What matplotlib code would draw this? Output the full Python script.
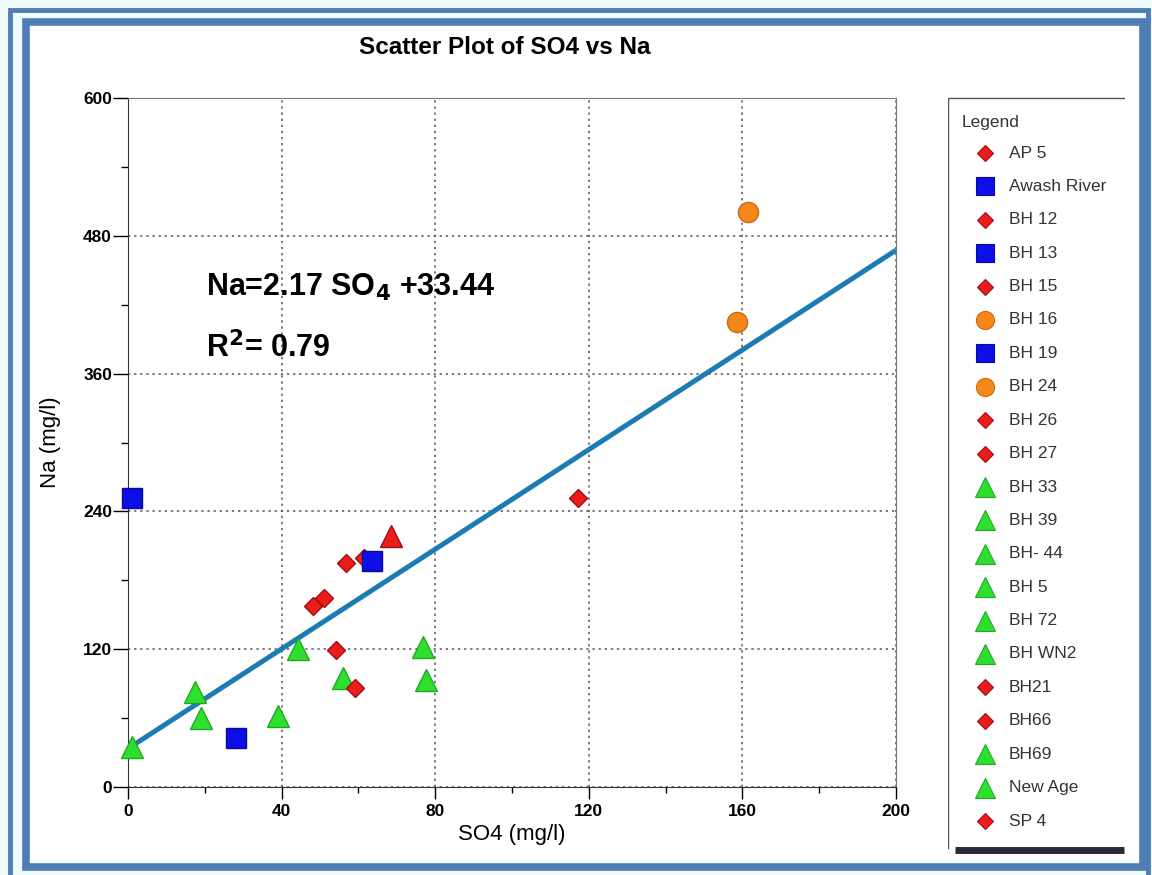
#!/usr/bin/env python
"""Scatter plot of SO4 vs Na with a linear fit and a boxed legend."""

import matplotlib

matplotlib.use("Agg")
import matplotlib.pyplot as plt  # noqa: E402
from matplotlib.patches import Rectangle  # noqa: E402

plt.rcParams["font.family"] = ["Liberation Sans", "DejaVu Sans"]

# --- data -------------------------------------------------------------------
sites = [
    "AP 5", "Awash River", "BH 12", "BH 13", "BH 15", "BH 16", "BH 19",
    "BH 24", "BH 26", "BH 27", "BH 33", "BH 39", "BH- 44", "BH 5", "BH 72",
    "BH WN2", "BH21", "BH66", "BH69", "New Age", "SP 4",
]
so4 = [
    56.8, 1.0, 61.5, 28.0, 48.1, 158.5, 63.5,
    161.5, 51.1, 54.2, 1.1, 17.4, 19.0, 39.1, 44.4,
    56.1, 59.1, 117.2, 76.7, 77.6, 68.5,
]
na = [
    195, 252, 199, 43, 158, 405, 197,
    501, 165, 119, 35, 83, 60, 62, 120,
    95, 86, 252, 122, 93, 219,
]
group = [
    "red", "blue", "red", "blue", "red", "orange", "blue",
    "orange", "red", "red", "green", "green", "green", "green", "green",
    "green", "red", "red", "green", "green", "red",
]
# one red point is drawn as a triangle in the source chart
plot_marker = [None] * 20 + ["^"]

fit_slope = 2.17
fit_intercept = 33.44
fit_x = [0, 200]

styles = {
    "red": dict(marker="D", ms=9.5, mfc="#ea1c1c", mec="#a30d0d"),
    "blue": dict(marker="s", ms=14, mfc="#0d10e6", mec="#0a0a9a"),
    "orange": dict(marker="o", ms=14.5, mfc="#f7871b", mec="#c86a10"),
    "green": dict(marker="^", ms=16.5, mfc="#2ee02e", mec="#22a822"),
}

W, H = 1152, 875
fig = plt.figure(figsize=(W / 100, H / 100), dpi=100)
fig.patch.set_facecolor("#eefafc")


def fx(px):
    return px / W


def fy(py):
    return 1 - py / H


def px_rect(x0, y0, x1, y1, **kw):
    return Rectangle((fx(x0), fy(y1)), fx(x1 - x0), fy(y0) - fy(y1),
                     transform=fig.transFigure, zorder=-5, **kw)


# --- page frame -------------------------------------------------------------
fig.patches.append(px_rect(10, 10, 1148, 880, fc="none", ec="#4f7db4", lw=3.5))
fig.patches.append(px_rect(26, 22, 1143, 867, fc="white", ec="#4f7db4", lw=5.5))

# --- main axes --------------------------------------------------------------
ax = fig.add_axes([fx(128), fy(787), fx(896 - 128), fy(98) - fy(787)])
ax.set_facecolor("none")
ax.set_xlim(0, 200)
ax.set_ylim(0, 600)
ax.set_xticks(range(0, 201, 40))
ax.set_xticks(range(20, 200, 40), minor=True)
ax.set_yticks(range(0, 601, 120))
ax.set_yticks(range(60, 600, 120), minor=True)
ax.grid(True, which="major", ls=(0, (1.5, 2.5)), color="#555555", lw=1.1)
ax.tick_params(axis="x", which="major", direction="out", length=8.5, width=1,
               labelsize=12.5, pad=4)
ax.tick_params(axis="y", which="major", direction="out", length=11, width=1,
               labelsize=12.5, pad=0.5)
ax.tick_params(axis="x", which="minor", direction="out", length=4, width=1)
ax.tick_params(axis="y", which="minor", direction="out", length=5, width=1)
for lab in ax.get_xticklabels() + ax.get_yticklabels():
    lab.set_fontweight("bold")
for side in ("top", "right"):
    ax.spines[side].set_color("#777777")
for side in ("left", "bottom"):
    ax.spines[side].set_color("#333333")
ax.set_axisbelow(True)

fit_y = [fit_slope * x + fit_intercept for x in fit_x]
ax.plot(fit_x, fit_y, color="#1d7bb3", lw=3.6, zorder=2, solid_capstyle="butt")

for x, y, g, m in zip(so4, na, group, plot_marker):
    st = dict(styles[g])
    if m is not None:
        st["marker"] = m
        st["ms"] = 16.5
    ax.plot([x], [y], ls="none", mew=1, zorder=3, clip_on=False, **st)

ax.set_xlabel("SO4 (mg/l)", fontsize=16, labelpad=3)
ax.set_ylabel("Na (mg/l)", fontsize=16, labelpad=16)
ax.set_title("Scatter Plot of SO4 vs Na", fontsize=17.5, fontweight="bold", pad=32, x=0.49)

ax.text(0.102, 0.725, r"Na=2.17 SO$_\mathbf{4}$ +33.44", transform=ax.transAxes,
        fontsize=22, fontweight="bold", va="center")
ax.text(0.102, 0.637, r"R$^\mathbf{2}$= 0.79", transform=ax.transAxes,
        fontsize=22, fontweight="bold", va="center")

# --- legend panel -----------------------------------------------------------
lx0, lx1, ly0, ly1 = 948, 1125, 97, 856
lax = fig.add_axes([fx(lx0), fy(ly1), fx(lx1 - lx0), fy(ly0) - fy(ly1)])
lax.set_xlim(lx0, lx1)
lax.set_ylim(ly1, ly0)
lax.axis("off")
lax.plot([lx0, lx0, 1124], [848, 98, 98], color="#555555", lw=1)
lax.plot([955, 1124], [850, 850], color="#2a2a35", lw=5, solid_capstyle="butt")
lax.text(962, 122, "Legend", fontsize=12.5, color="#333333", va="center")
for i, (name, g) in enumerate(zip(sites, group)):
    yy = 153 + i * 33.4
    st = dict(styles[g])
    st["ms"] = st["ms"] * 0.9
    lax.plot([985], [yy], ls="none", mew=0.8, clip_on=False, **st)
    lax.text(1009, yy, name, fontsize=12.5, color="#333333", va="center")

fig.savefig("out.png", dpi=100)
